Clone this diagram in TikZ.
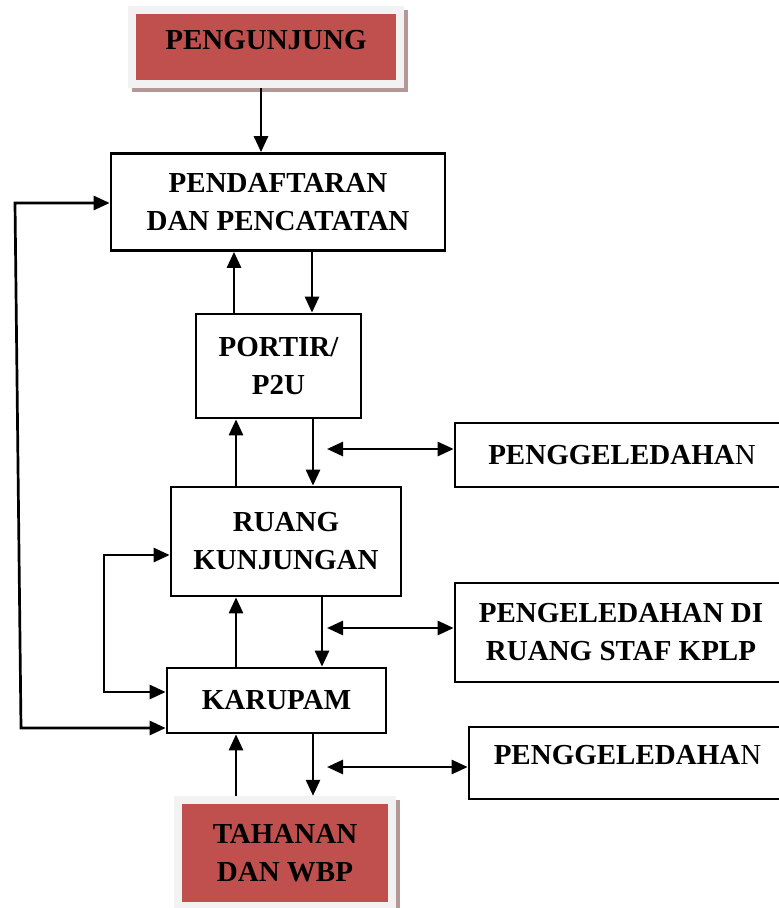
\documentclass[tikz,border=0pt]{standalone}
\usepackage{fontspec}
\setmainfont{Liberation Serif}
\usepackage{tikz}
\usetikzlibrary{arrows.meta,positioning,shadows}
\definecolor{BoxRed}{HTML}{C0504D}
\definecolor{FrameGray}{HTML}{F2F2F2}
\definecolor{ShadowRose}{HTML}{B49797}

\begin{document}
\begin{tikzpicture}[x=1pt,y=-1pt,
  box/.style={draw,line width=2.7pt,align=center,inner sep=0pt,font=\bfseries\fontsize{29}{38}\selectfont},
  redbox/.style={fill=FrameGray,align=center,inner sep=0pt,font=\bfseries\fontsize{29}{38}\selectfont,
    general shadow={fill=ShadowRose,shadow xshift=4pt,shadow yshift=-4pt},
    path picture={\fill[BoxRed] ([shift={(8pt,-8pt)}]path picture bounding box.north west) rectangle ([shift={(-8pt,8pt)}]path picture bounding box.south east);}},
  arr/.style={-{Triangle[length=16pt,width=14pt]},line width=2.7pt},
  dblarr/.style={{Triangle[length=16pt,width=14pt]}-{Triangle[length=16pt,width=14pt]},line width=2.7pt}]
  \useasboundingbox (0,0) rectangle (779,908);
  \clip (0,0) rectangle (779,908);

  \node[redbox,minimum width=276pt,minimum height=82pt,text depth=14pt] (visitor) at (266,47) {PENGUNJUNG};
  \node[box,minimum width=334pt,minimum height=97pt] (daftar) at (278,202) {PENDAFTARAN\\DAN PENCATATAN};
  \node[box,minimum width=165pt,minimum height=104pt] (portir) at (278.5,366) {PORTIR/\\P2U};
  \node[box,minimum width=230pt,minimum height=109pt] (ruang) at (286,541.5) {RUANG\\KUNJUNGAN};
  \node[box,minimum width=219pt,minimum height=65pt] (karupam) at (276.5,700.5) {KARUPAM};
  \node[redbox,minimum width=222pt,minimum height=114pt] (tahanan) at (285,853) {TAHANAN\\DAN WBP};
  \node[box,minimum width=334pt,minimum height=64pt] (geledahA) at (622,455) {PENGGELEDAHA{\mdseries N}};
  \node[box,minimum width=332pt,minimum height=99pt] (geledahB) at (621,632.5) {PENGELEDAHAN DI\\RUANG STAF KPLP};
  \node[box,minimum width=317pt,minimum height=72pt,text depth=16pt] (geledahC) at (627.5,763) {PENGGELEDAHA{\mdseries N}};

  % alur utama
  \draw[arr] (visitor.south -| 261,0) -- (daftar.north -| 261,0);
  \draw[arr] (portir.north -| 234,0) -- (daftar.south -| 234,0);
  \draw[arr] (daftar.south -| 312,0) -- (portir.north -| 312,0);
  \draw[arr] (ruang.north -| 236,0) -- (portir.south -| 236,0);
  \draw[arr] (portir.south -| 313,0) -- (ruang.north -| 313,0);
  \draw[arr] (karupam.north -| 236,0) -- (ruang.south -| 236,0);
  \draw[arr] (ruang.south -| 322,0) -- (karupam.north -| 322,0);
  \draw[arr] (tahanan.north -| 236,0) -- (karupam.south -| 236,0);
  \draw[arr] (karupam.south -| 313,0) -- (tahanan.north -| 313,0);

  % penggeledahan
  \draw[dblarr] (327,449) -- (geledahA.west |- 0,449);
  \draw[dblarr] (327,628) -- (geledahB.west |- 0,628);
  \draw[dblarr] (327,767) -- (geledahC.west |- 0,767);

  % jalur balik
  \draw[dblarr] (ruang.west |- 0,555) -- (104,555) -- (104,692) -- (karupam.west |- 0,692);
  \draw[dblarr] (daftar.west |- 0,203) -- (15,203) -- (21,728) -- (karupam.west |- 0,728);
\end{tikzpicture}
\end{document}
